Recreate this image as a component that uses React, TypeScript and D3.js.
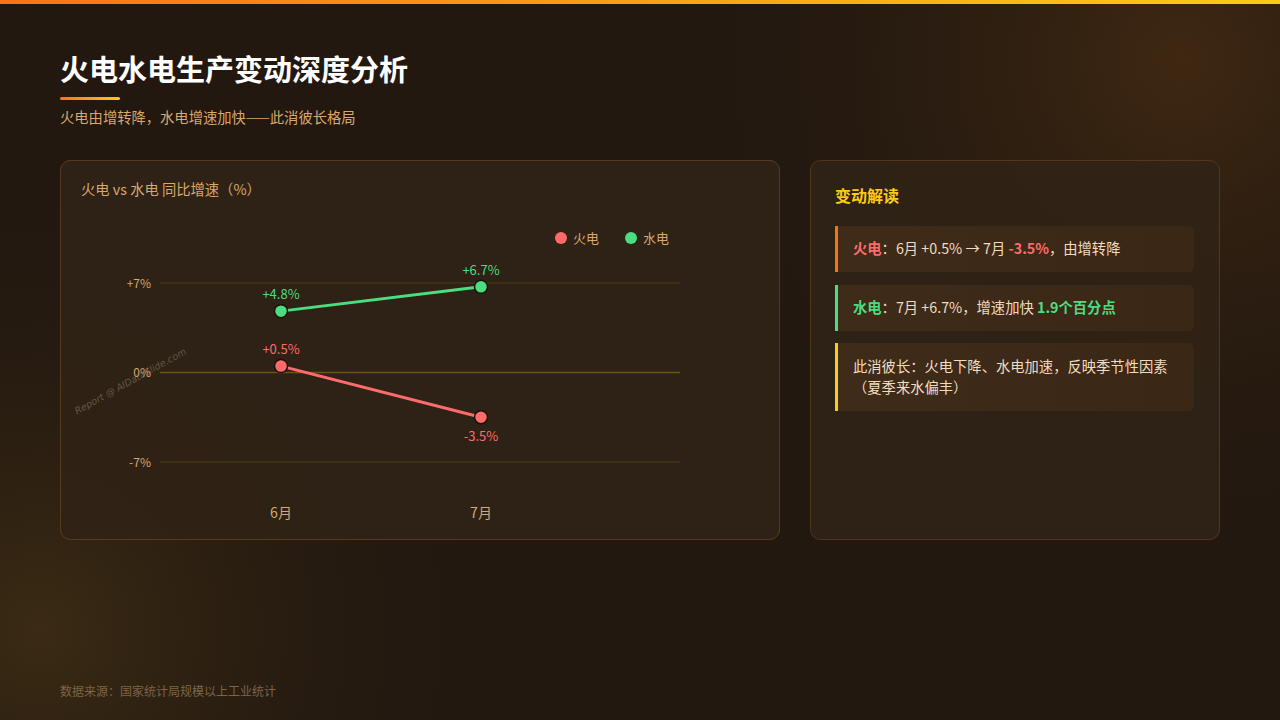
import React from "react";
import * as d3 from "d3";

const WIDTH = 1280;
const HEIGHT = 720;
const FONT = "'Noto Sans CJK SC', 'Noto Sans', sans-serif";

const months = ["6月", "7月"];
const thermal = [0.5, -3.5];
const hydro = [4.8, 6.7];
const yTicks = [7, 0, -7];

const seriesList = [
  { name: "火电", values: thermal, color: "#ff6b6b", below: [false, true] },
  { name: "水电", values: hydro, color: "#4ade80", below: [false, false] },
];

const fmt = (v: number) => (v > 0 ? "+" : "") + v + "%";

const TAN = "#d9a86c";
const TEXT = "#f1dcc0";

export default function App() {
  // plot area inside left card
  const plotLeft = 160;
  const plotRight = 680;
  const x = d3.scalePoint().domain(months).range([281, 481]);
  const y = d3.scaleLinear().domain([-7, 7]).range([462, 283]);
  const line = d3
    .line<number>()
    .x((_, i) => x(months[i]) ?? 0)
    .y((d) => y(d));

  return (
    <div style={{ position: "fixed", left: 0, top: 0 }}>
      <svg width={WIDTH} height={HEIGHT} style={{ display: "block", fontFamily: FONT }}>
        <defs>
          <linearGradient id="topbar" x1="0" x2="1">
            <stop offset="0%" stopColor="#f97316" />
            <stop offset="100%" stopColor="#facc15" />
          </linearGradient>
          <radialGradient id="glowTR" cx="1180" cy="60" r="540" gradientUnits="userSpaceOnUse">
            <stop offset="0%" stopColor="#3f2812" />
            <stop offset="100%" stopColor="#221810" stopOpacity="0" />
          </radialGradient>
          <radialGradient id="glowBL" cx="40" cy="630" r="480" gradientUnits="userSpaceOnUse">
            <stop offset="0%" stopColor="#3b2b14" />
            <stop offset="100%" stopColor="#221810" stopOpacity="0" />
          </radialGradient>
          <linearGradient id="itemBg" x1="0" x2="1">
            <stop offset="0%" stopColor="#3e2b18" />
            <stop offset="100%" stopColor="#3b2716" />
          </linearGradient>
        </defs>

        <rect width={WIDTH} height={HEIGHT} fill="#221810" />
        <rect width={WIDTH} height={HEIGHT} fill="url(#glowTR)" />
        <rect width={WIDTH} height={HEIGHT} fill="url(#glowBL)" />
        <rect width={WIDTH} height={4} fill="url(#topbar)" />

        {/* header */}
        <text x={60} y={81} fill="#ffffff" fontSize={29} fontWeight={700}>
          火电水电生产变动深度分析
        </text>
        <rect x={60} y={97} width={60} height={3} rx={1.5} fill="url(#topbar)" />
        <text x={60} y={123} fill={TAN} fontSize={14.3}>
          火电由增转降，水电增速加快——此消彼长格局
        </text>

        {/* chart card */}
        <rect x={60.5} y={160.5} width={719} height={379} rx={10} fill="#30231600" stroke="#5a3f1e" strokeOpacity={0.8} />
        <rect x={60.5} y={160.5} width={719} height={379} rx={10} fill="#302316" fillOpacity={0.85} stroke="#5a3f1e" strokeOpacity={0.8} />
        <text x={81} y={195} fill={TAN} fontSize={14.3}>
          火电 vs 水电 同比增速（%）
        </text>

        {/* legend */}
        {seriesList.map((s, i) => (
          <g key={s.name} transform={`translate(${561 + i * 70},238)`}>
            <circle r={6} fill={s.color} />
            <text x={12} y={5} fill={TAN} fontSize={13}>
              {s.name}
            </text>
          </g>
        ))}

        {/* grid */}
        {yTicks.map((t) => (
          <g key={t}>
            <line
              x1={plotLeft}
              x2={plotRight}
              y1={y(t)}
              y2={y(t)}
              stroke={t === 0 ? "#6b5512" : "#4e3c12"}
              strokeWidth={t === 0 ? 1.5 : 1}
            />
            <text x={151} y={y(t) + 4.5} textAnchor="end" fill={TAN} fontSize={12}>
              {t > 0 ? "+" + t + "%" : t + "%"}
            </text>
          </g>
        ))}

        {/* x labels */}
        {months.map((m) => (
          <text key={m} x={x(m)} y={518} textAnchor="middle" fill={TAN} fontSize={14}>
            {m}
          </text>
        ))}

        {/* series */}
        {seriesList.map((s) => (
          <g key={s.name}>
            <path d={line(s.values) ?? ""} fill="none" stroke={s.color} strokeWidth={3} />
            {s.values.map((v, i) => (
              <g key={i}>
                <circle cx={x(months[i])} cy={y(v)} r={6.5} fill={s.color} stroke="#1a120a" strokeWidth={1.5} />
                <text
                  x={x(months[i])}
                  y={s.below[i] ? y(v) + 24 : y(v) - 12}
                  textAnchor="middle"
                  fill={s.color}
                  fontSize={13}
                >
                  {fmt(v)}
                </text>
              </g>
            ))}
          </g>
        ))}

        {/* watermark */}
        <text
          x={132}
          y={384}
          textAnchor="middle"
          transform="rotate(-29,132,384)"
          fill="#9a8a7a"
          fillOpacity={0.5}
          fontSize={9.5}
          fontStyle="italic"
          fontFamily="'DejaVu Sans', sans-serif"
        >
          Report @ AIDataSlide.com
        </text>

        {/* right card */}
        <rect x={810.5} y={160.5} width={409} height={379} rx={10} fill="#302316" fillOpacity={0.85} stroke="#5a3f1e" strokeOpacity={0.8} />
        <text x={835} y={202} fill="#facc15" fontSize={16} fontWeight={700}>
          变动解读
        </text>

        <rect x={835} y={226} width={359} height={46} rx={6} fill="url(#itemBg)" />
        <rect x={835} y={226} width={3} height={46} fill="#f97316" />
        <text x={853} y={254} fontSize={14.3} fill={TEXT}>
          <tspan fill="#ff6b6b" fontWeight={700}>火电</tspan>
          <tspan>：6月 +0.5% → 7月 </tspan>
          <tspan fill="#ff6b6b" fontWeight={700}>-3.5%</tspan>
          <tspan>，由增转降</tspan>
        </text>

        <rect x={835} y={285} width={359} height={46} rx={6} fill="url(#itemBg)" />
        <rect x={835} y={285} width={3} height={46} fill="#4ade80" />
        <text x={853} y={313} fontSize={14.3} fill={TEXT}>
          <tspan fill="#4ade80" fontWeight={700}>水电</tspan>
          <tspan>：7月 +6.7%，增速加快 </tspan>
          <tspan fill="#4ade80" fontWeight={700}>1.9个百分点</tspan>
        </text>

        <rect x={835} y={343} width={359} height={68} rx={6} fill="url(#itemBg)" />
        <rect x={835} y={343} width={3} height={68} fill="#facc15" />
        <text x={853} y={372} fontSize={14.3} fill={TEXT}>
          此消彼长：火电下降、水电加速，反映季节性因素
        </text>
        <text x={853} y={393} fontSize={14.3} fill={TEXT}>
          （夏季来水偏丰）
        </text>

        {/* footer */}
        <text x={60} y={696} fill="#7d6446" fontSize={12}>
          数据来源：国家统计局规模以上工业统计
        </text>
      </svg>
    </div>
  );
}
